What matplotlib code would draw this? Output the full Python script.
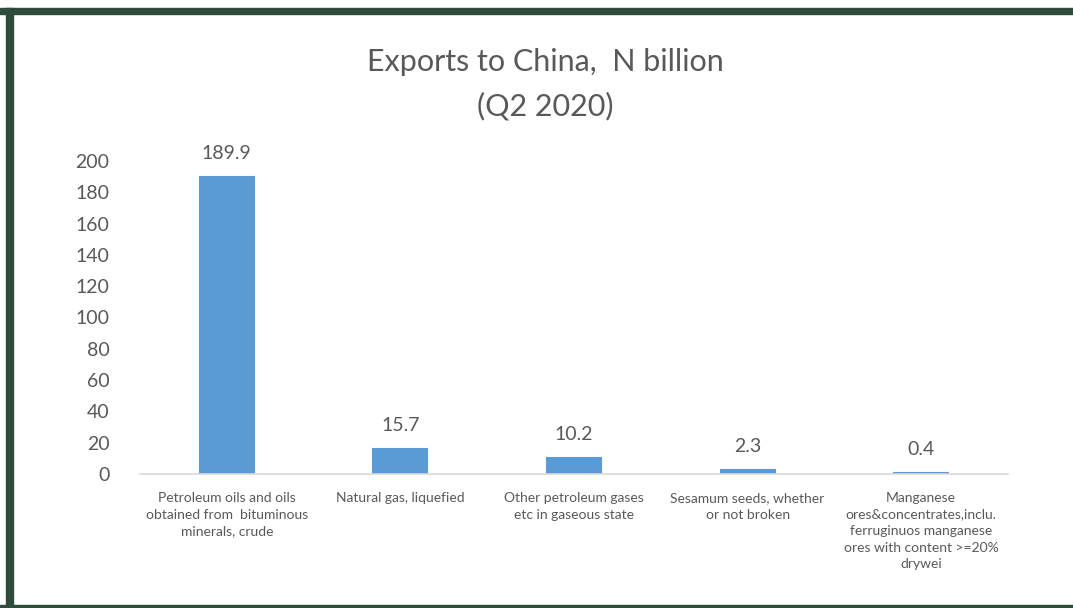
import matplotlib.pyplot as plt
from matplotlib.patches import Rectangle

categories = [
    "Petroleum oils and oils\nobtained from  bituminous\nminerals, crude",
    "Natural gas, liquefied",
    "Other petroleum gases\netc in gaseous state",
    "Sesamum seeds, whether\nor not broken",
    "Manganese\nores&concentrates,inclu.\nferruginuos manganese\nores with content >=20%\ndrywei",
]
values = [189.9, 15.7, 10.2, 2.3, 0.4]
yticks = [0, 20, 40, 60, 80, 100, 120, 140, 160, 180, 200]

plt.rcParams['font.family'] = ['Lato', 'DejaVu Sans']
grey = "#595959"

fig = plt.figure(figsize=(10.73, 6.08), dpi=100)
W, H = 1073, 608

# dark green frame (top, left, bottom)
frame = "#2f4b3c"
fig.patches.append(Rectangle((0, 1 - 14 / H), 1, 6 / H, transform=fig.transFigure, color=frame, zorder=0))
fig.patches.append(Rectangle((6 / W, 0), 7 / W, 1 - 8 / H, transform=fig.transFigure, color=frame, zorder=0))
fig.patches.append(Rectangle((0, 0), 1, 3 / H, transform=fig.transFigure, color=frame, zorder=0))

ax = fig.add_axes([140 / W, 1 - 474 / H, 868 / W, 313 / H])
x = range(len(values))
bars = ax.bar(x, values, width=0.31, color="#5b9bd5", edgecolor="#5b9bd5", linewidth=1.5, zorder=2)
for xi, v in zip(x, values):
    ax.annotate(f"{v}", (xi, v), xytext=(0, 11), textcoords="offset points",
                ha="center", va="bottom", fontsize=14, color=grey)

ax.set_xlim(-0.5, len(values) - 0.5)
ax.set_ylim(0, 200)
ax.set_yticks(yticks)
ax.set_yticklabels([str(t) for t in yticks], fontsize=14, color=grey)
ax.set_xticks(list(x))
ax.set_xticklabels(categories, fontsize=10, color=grey, linespacing=1.45, va="top")
ax.tick_params(axis="both", length=0)
ax.tick_params(axis="y", pad=22)
ax.tick_params(axis="x", pad=13)
for s in ["top", "right", "left"]:
    ax.spines[s].set_visible(False)
ax.spines["bottom"].set_color("#d9d9d9")
ax.spines["bottom"].set_linewidth(1.2)

fig.text(545 / W, 1 - 84 / H, "Exports to China,  N billion\n(Q2 2020)", ha="center", va="center",
         fontsize=22, color=grey, linespacing=1.65)

fig.savefig("out.png", dpi=100, facecolor="white")
